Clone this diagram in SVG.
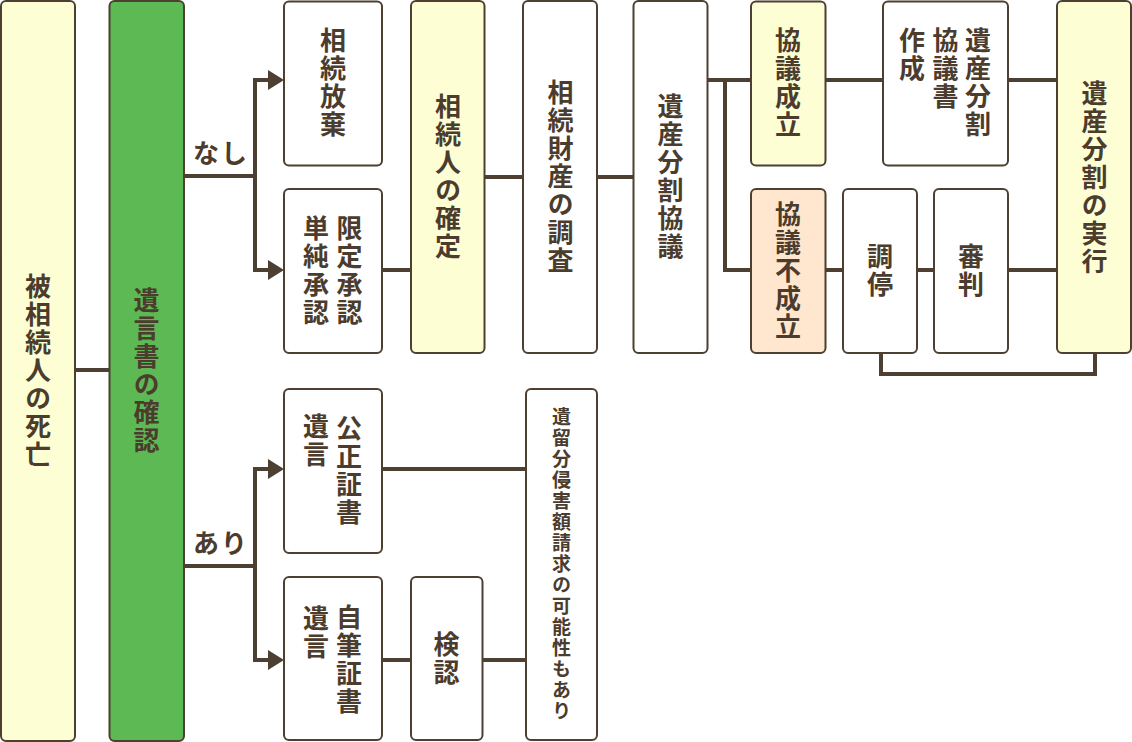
<svg xmlns="http://www.w3.org/2000/svg" width="1132" height="742" viewBox="0 0 1132 742">
<style>
.box{stroke:#4d3f31;stroke-width:2;fill:#ffffff}
.yel{fill:#fefed4}
.grn{fill:#5cb954}
.pch{fill:#ffe7cf}
.t{font-family:"Noto Sans CJK JP","Noto Sans",sans-serif;font-weight:700;fill:#4b3c2d;font-size:26px;letter-spacing:2px}
.v{writing-mode:vertical-rl}
.s{font-size:19px;letter-spacing:2px}
.c{stroke:#4d3f31;stroke-width:4;fill:none}
.ah{fill:#4d3f31}
</style>
<defs>
<polygon id="arr" points="-16,-10 0,0 -16,10" class="ah"/>
</defs>
<rect width="1132" height="742" fill="#ffffff"/>
<g id="connectors">
<path class="c" d="M75,370H109"/>
<path class="c" d="M184,176H255M255,78V272M253,80H270M253,270H270"/>
<use href="#arr" x="284" y="80"/>
<use href="#arr" x="284" y="270"/>
<path class="c" d="M184,566H255M255,467V662M253,469H270M253,660H270"/>
<use href="#arr" x="284" y="469"/>
<use href="#arr" x="284" y="660"/>
<path class="c" d="M382,270H411"/>
<path class="c" d="M484,177H523"/>
<path class="c" d="M597,177H633"/>
<path class="c" d="M708,80H751M725,80V270H751"/>
<path class="c" d="M826,80H883"/>
<path class="c" d="M1008,80H1057"/>
<path class="c" d="M826,270H843"/>
<path class="c" d="M917,270H934"/>
<path class="c" d="M1008,270H1057"/>
<path class="c" d="M881,353V374H1095V353"/>
<path class="c" d="M382,469H526"/>
<path class="c" d="M382,660H411"/>
<path class="c" d="M482,660H526"/>
</g>
<g id="n-death">
<rect class="box yel" x="1" y="1" width="74" height="740" rx="5"/>
<text class="t v" x="38" y="371" text-anchor="middle">被相続人の死亡</text>
</g>
<g id="n-will">
<rect class="box grn" x="109.5" y="1" width="74.5" height="740" rx="5"/>
<text class="t v" x="146.5" y="371" text-anchor="middle">遺言書の確認</text>
</g>
<text class="t" x="193" y="163" font-size="25">なし</text>
<text class="t" x="193" y="553" font-size="25">あり</text>
<g id="n-houki">
<rect class="box" x="284" y="1.5" width="98" height="164" rx="5"/>
<text class="t v" x="333" y="83" text-anchor="middle">相続放棄</text>
</g>
<g id="n-shonin">
<rect class="box" x="284" y="189" width="98" height="164" rx="5"/>
<text class="t v" x="349.5" y="271" text-anchor="middle">限定承認</text>
<text class="t v" x="316" y="271" text-anchor="middle">単純承認</text>
</g>
<g id="n-kakutei">
<rect class="box yel" x="411" y="1" width="73.5" height="352" rx="5"/>
<text class="t v" x="448" y="177" text-anchor="middle">相続人の確定</text>
</g>
<g id="n-chosa">
<rect class="box" x="523" y="1" width="74" height="352" rx="5"/>
<text class="t v" x="560.5" y="177" text-anchor="middle">相続財産の調査</text>
</g>
<g id="n-kyogi">
<rect class="box" x="633.5" y="1" width="74" height="352" rx="5"/>
<text class="t v" x="670.5" y="177" text-anchor="middle">遺産分割協議</text>
</g>
<g id="n-seiritsu">
<rect class="box yel" x="751" y="1.5" width="74.5" height="164" rx="5"/>
<text class="t v" x="788" y="83" text-anchor="middle">協議成立</text>
</g>
<g id="n-fuseiritsu">
<rect class="box pch" x="751" y="189" width="74.5" height="164" rx="5"/>
<text class="t v" x="788" y="271" text-anchor="middle">協議不成立</text>
</g>
<g id="n-kyogisho">
<rect class="box" x="883" y="1.5" width="125" height="164" rx="5"/>
<text class="t v" x="978" y="27">遺産分割</text>
<text class="t v" x="945.5" y="27">協議書</text>
<text class="t v" x="912" y="27">作成</text>
</g>
<g id="n-chotei">
<rect class="box" x="843" y="189" width="74" height="164" rx="5"/>
<text class="t v" x="880" y="271" text-anchor="middle">調停</text>
</g>
<g id="n-shinpan">
<rect class="box" x="934" y="189" width="74" height="164" rx="5"/>
<text class="t v" x="971" y="271" text-anchor="middle">審判</text>
</g>
<g id="n-jikko">
<rect class="box yel" x="1057" y="1" width="74" height="352" rx="5"/>
<text class="t v" x="1094.5" y="178" text-anchor="middle">遺産分割の実行</text>
</g>
<g id="n-kosei">
<rect class="box" x="284" y="389" width="98" height="164" rx="5"/>
<text class="t v" x="349" y="471" text-anchor="middle">公正証書</text>
<text class="t v" x="316" y="413">遺言</text>
</g>
<g id="n-jihitsu">
<rect class="box" x="284" y="577" width="98" height="163" rx="5"/>
<text class="t v" x="349" y="660" text-anchor="middle">自筆証書</text>
<text class="t v" x="316" y="605">遺言</text>
</g>
<g id="n-kennin">
<rect class="box" x="411" y="577" width="71.5" height="163" rx="5"/>
<text class="t v" x="446.5" y="659" text-anchor="middle">検認</text>
</g>
<g id="n-iryubun">
<rect class="box" x="526" y="389" width="71" height="351" rx="5"/>
<text class="t v s" x="561.5" y="565" text-anchor="middle">遺留分侵害額請求の可能性もあり</text>
</g>
</svg>
